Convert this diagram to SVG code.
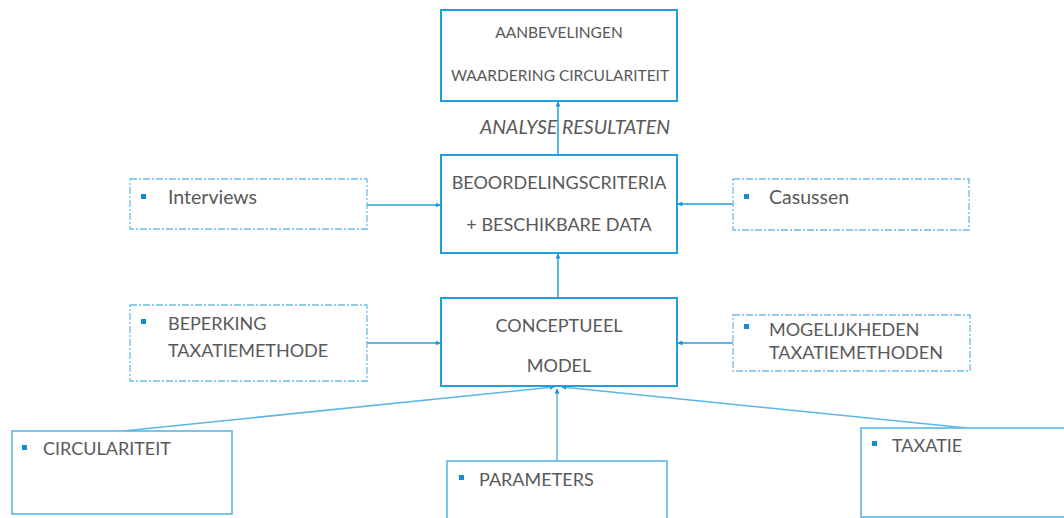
<svg xmlns="http://www.w3.org/2000/svg" width="1064" height="518" viewBox="0 0 1064 518">
<defs>
<marker id="ah" viewBox="0 0 10 10" refX="9" refY="5" markerWidth="5" markerHeight="5" orient="auto" markerUnits="userSpaceOnUse">
<path d="M0,0 L10,5 L0,10 z" fill="#1b95d6"/>
</marker>
<style>
.main{fill:#fff;stroke:#1f9fdc;stroke-width:2}
.dash{fill:#fff;stroke:#6cbde6;stroke-width:1.3;stroke-dasharray:7 2 2 2}
.low{fill:#fff;stroke:#5cb7e3;stroke-width:1.6}
.t{font-family:Lato,"Open Sans",sans-serif;font-size:18px;fill:#595959}
.s{font-size:15.5px}
.m{font-size:19.5px}
.c{text-anchor:middle}
.b{fill:#0e8ed4}
.con{stroke:#1f9fdc;stroke-width:1.5;fill:none}
.con2{stroke:#5cb7e3;stroke-width:1.5;fill:none}
</style>
</defs>
<g id="connectors">
<line class="con" x1="558" y1="155" x2="558" y2="102" marker-end="url(#ah)"/>
<line class="con" x1="558" y1="298" x2="558" y2="254" marker-end="url(#ah)"/>
<line class="con" x1="367" y1="205" x2="440" y2="205" marker-end="url(#ah)"/>
<line class="con" x1="733" y1="204" x2="678" y2="204" marker-end="url(#ah)"/>
<line class="con" x1="367" y1="343" x2="440" y2="343" marker-end="url(#ah)"/>
<line class="con" x1="733" y1="343" x2="678" y2="343" marker-end="url(#ah)"/>
<line class="con2" x1="123" y1="431" x2="554" y2="387" marker-end="url(#ah)"/>
<line class="con2" x1="557" y1="461" x2="557" y2="389" marker-end="url(#ah)"/>
<line class="con2" x1="967" y1="428" x2="562" y2="387" marker-end="url(#ah)"/>
<text class="t m" x="575" y="134" text-anchor="middle" font-style="italic">ANALYSE RESULTATEN</text>
</g>
<g id="aanbevelingen">
<rect class="main" x="441" y="10" width="236" height="91"/>
<text class="t s c" x="559" y="38">AANBEVELINGEN</text>
<text class="t s c" x="560" y="81">WAARDERING CIRCULARITEIT</text>
</g>
<g id="beoordelingscriteria">
<rect class="main" x="441" y="155" width="236" height="98"/>
<text class="t c" x="559" y="189">BEOORDELINGSCRITERIA</text>
<text class="t c" x="559" y="231">+ BESCHIKBARE DATA</text>
</g>
<g id="conceptueel">
<rect class="main" x="441" y="298" width="236" height="88"/>
<text class="t c" x="559" y="332">CONCEPTUEEL</text>
<text class="t c" x="559" y="372">MODEL</text>
</g>
<g id="interviews">
<rect class="dash" x="130" y="179" width="237" height="50"/>
<rect class="b" x="141" y="194" width="5" height="5"/>
<text class="t m" x="168" y="204">Interviews</text>
</g>
<g id="casussen">
<rect class="dash" x="733" y="179" width="236" height="51"/>
<rect class="b" x="744" y="194" width="5" height="5"/>
<text class="t m" x="769" y="204">Casussen</text>
</g>
<g id="beperking">
<rect class="dash" x="130" y="305" width="237" height="76"/>
<rect class="b" x="141" y="319" width="5" height="5"/>
<text class="t" x="168" y="330">BEPERKING</text>
<text class="t" x="168" y="357">TAXATIEMETHODE</text>
</g>
<g id="mogelijkheden">
<rect class="dash" x="733" y="315" width="237" height="56"/>
<rect class="b" x="744" y="324" width="5" height="5"/>
<text class="t" x="769" y="336">MOGELIJKHEDEN</text>
<text class="t" x="769" y="359">TAXATIEMETHODEN</text>
</g>
<g id="circulariteit">
<rect class="low" x="12" y="431" width="220" height="83"/>
<rect class="b" x="22" y="445" width="5" height="5"/>
<text class="t" x="43" y="455">CIRCULARITEIT</text>
</g>
<g id="parameters">
<rect class="low" x="447" y="461" width="220" height="70"/>
<rect class="b" x="459" y="475" width="5" height="5"/>
<text class="t" x="479" y="486">PARAMETERS</text>
</g>
<g id="taxatie">
<rect class="low" x="861" y="428" width="220" height="89"/>
<rect class="b" x="872" y="441" width="5" height="5"/>
<text class="t" x="892" y="452">TAXATIE</text>
</g>
</svg>
